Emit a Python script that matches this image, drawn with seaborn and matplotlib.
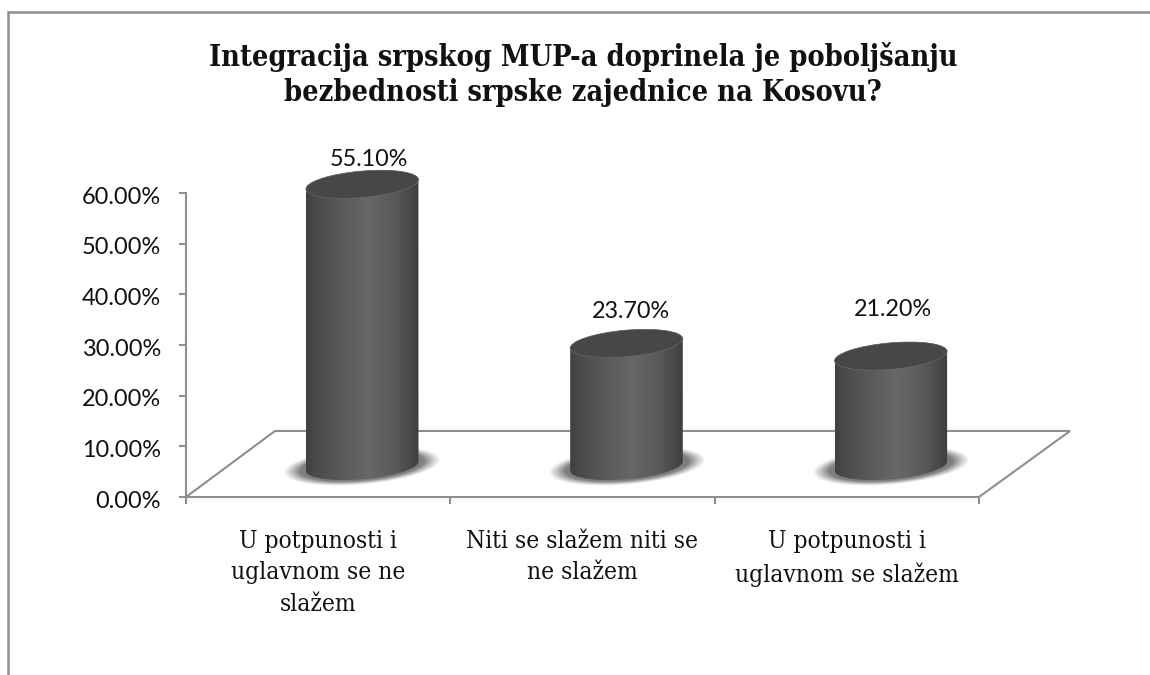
import numpy as np
import pandas as pd
import matplotlib
matplotlib.use("Agg")
import matplotlib.pyplot as plt
import seaborn as sns
from matplotlib.lines import Line2D
from matplotlib.patches import Ellipse
from matplotlib.path import Path
from matplotlib.transforms import IdentityTransform, Affine2D
from matplotlib.colors import LinearSegmentedColormap

categories = ["U potpunosti i\nuglavnom se ne\nslažem",
              "Niti se slažem niti se\nne slažem",
              "U potpunosti i\nuglavnom se slažem"]
values = [55.1, 23.7, 21.2]
y_ticks = [0, 10, 20, 30, 40, 50, 60]
title = "Integracija srpskog MUP-a doprinela je poboljšanju\nbezbednosti srpske zajednice na Kosovu?"

W, H = 1150, 675
GRAY = "#8e8e8e"
sns.set_theme(style="white")
plt.rcParams["font.family"] = ["DejaVu Serif"]
plt.rcParams["font.stretch"] = "condensed"

fig = plt.figure(figsize=(W / 100, H / 100), dpi=100, facecolor="white")
ax = fig.add_axes([186 / W, (H - 497) / H, 793 / W, 304 / H], facecolor="none")

df = pd.DataFrame({"cat": categories, "val": values})
sns.barplot(data=df, x="cat", y="val", ax=ax, color="#4a4a4a", width=0.42,
            saturation=1, zorder=3)
ax.set_xlim(-0.5, 2.5)
ax.set_ylim(0, 60)
ax.set_xlabel("")
ax.set_ylabel("")

# axes styling
for s in ("top", "right"):
    ax.spines[s].set_visible(False)
for s in ("left", "bottom"):
    ax.spines[s].set_color(GRAY)
    ax.spines[s].set_linewidth(1.5)
ax.set_yticks(y_ticks)
ax.set_yticklabels([f"{v:.2f}%" for v in y_ticks], fontsize=16.9,
                   family="Lato", color="#111111", stretch="normal")
ax.set_xticks(range(3))
ax.set_xticklabels(categories, fontsize=17.6, color="#111111", linespacing=1.45)
ax.tick_params(axis="y", length=5, width=1.5, color=GRAY, pad=13, left=True)
ax.tick_params(axis="x", length=0, pad=24, bottom=False)
for lab in ax.get_yticklabels():
    lab.set_transform(lab.get_transform() + Affine2D().translate(0, -2))
for xb in (-0.5, 0.5, 1.5, 2.5):
    ax.plot([xb, xb], [0, -7 / 304], transform=ax.get_xaxis_transform(),
            color=GRAY, lw=1.5, clip_on=False, solid_capstyle="butt")

# floor parallelogram (behind the bars)
fx = [0, 89 / 793, 884 / 793, 1]
fy = [0, 66 / 304, 66 / 304, 0]
ax.plot(fx, fy, transform=ax.transAxes, color=GRAY, lw=1.5, clip_on=False,
        zorder=1, solid_joinstyle="miter")

# cylinders
DX, DY, DY_TOP = 44.0, 31.0, 33.5
EW, EH, ANG = 113.0, 26.5, 5.0
cmap = LinearSegmentedColormap.from_list(
    "cyl", [(0, "#404040"), (0.08, "#4a4a4a"), (0.35, "#5c5c5c"), (0.55, "#676767"),
            (0.78, "#5a5a5a"), (0.93, "#484848"), (1, "#3e3e3e")])
grad = np.linspace(0, 1, 256)[None, :]


def arc(cx, cy, lower=True):
    t = np.radians(ANG)
    a, b = EW / 2, EH / 2
    t0 = np.arctan2(-b * np.sin(t), a * np.cos(t))   # parameter of x extreme
    th = np.linspace(t0 - np.pi, t0, 80) if lower else np.linspace(t0, t0 + np.pi, 80)
    x = cx + a * np.cos(th) * np.cos(t) - b * np.sin(th) * np.sin(t)
    y = cy + a * np.cos(th) * np.sin(t) + b * np.sin(th) * np.cos(t)
    return np.column_stack([x, y])


# soft shadow texture (row 0 at the bottom of the picture)
sh_w, sh_h = 180, 56
xx, yy = np.meshgrid(np.linspace(-1, 1, sh_w * 2), np.linspace(-1, 1, sh_h * 2))
rot = np.radians(ANG)
px, py = xx * sh_w / 2, yy * sh_h / 2
u = (px * np.cos(rot) + py * np.sin(rot)) / 72
v = (-px * np.sin(rot) + py * np.cos(rot)) / 17
r = np.sqrt(u ** 2 + v ** 2)
alpha = np.clip((1.1 - r) / 0.24, 0, 1) ** 1.1 * 0.72
shadow = np.zeros(r.shape + (4,))
shadow[..., :3] = 0.3
shadow[..., 3] = alpha

geom = []
for rect in ax.patches:
    x0, _ = ax.transData.transform((rect.get_x(), 0))
    x1, y0 = ax.transData.transform((rect.get_x() + rect.get_width(), 0))
    _, y1 = ax.transData.transform((0, rect.get_height()))
    geom.append((x0 + DX, x1 + DX, y0 + DY, y1 + DY_TOP))
    rect.set_visible(False)

for x0, x1, y0, y1 in geom:
    cx = (x0 + x1) / 2
    im = ax.imshow(shadow, extent=(cx - sh_w / 2, cx + sh_w / 2, y0 - sh_h / 2, y0 + sh_h / 2),
                   transform=IdentityTransform(), aspect="auto", zorder=2,
                   origin="lower", interpolation="bilinear")
    im.set_clip_box(fig.bbox)
    low, up = arc(cx, y0, True), arc(cx, y1, False)
    poly = np.vstack([low, up, low[:1]])
    body = ax.imshow(grad, extent=(low[:, 0].min(), low[:, 0].max(), y0 - 20, y1 + 20),
                     transform=IdentityTransform(), aspect="auto", cmap=cmap, zorder=3,
                     interpolation="bilinear")
    body.set_clip_box(fig.bbox)
    body.set_clip_path(Path(poly), IdentityTransform())
    ax.add_patch(Ellipse((cx, y1), EW, EH, angle=ANG, transform=IdentityTransform(),
                         facecolor="#474747", edgecolor="#6a6a6a", lw=0.5, zorder=4,
                         clip_on=False))
ax.set_xlim(-0.5, 2.5)
ax.set_ylim(0, 60)

# data labels
lab_x = [369, 631, 893]
lab_y = [160, 311, 310]
for v, lx, ly in zip(values, lab_x, lab_y):
    fig.text(lx / W, (H - ly) / H, f"{v:.2f}%", ha="center", va="center",
             fontsize=16.8, family="Lato", color="#111111", stretch="normal")

fig.text(583 / W, (H - 74.5) / H, title, ha="center", va="center", fontsize=20.7,
         fontweight="bold", color="#111111", linespacing=1.25)

# chart frame
fig.add_artist(Line2D([8 / W, 8 / W, 1], [0, (H - 12) / H, (H - 12) / H],
                      transform=fig.transFigure, color=GRAY, lw=1.8,
                      solid_joinstyle="miter"))

fig.savefig("out.png", dpi=100)
